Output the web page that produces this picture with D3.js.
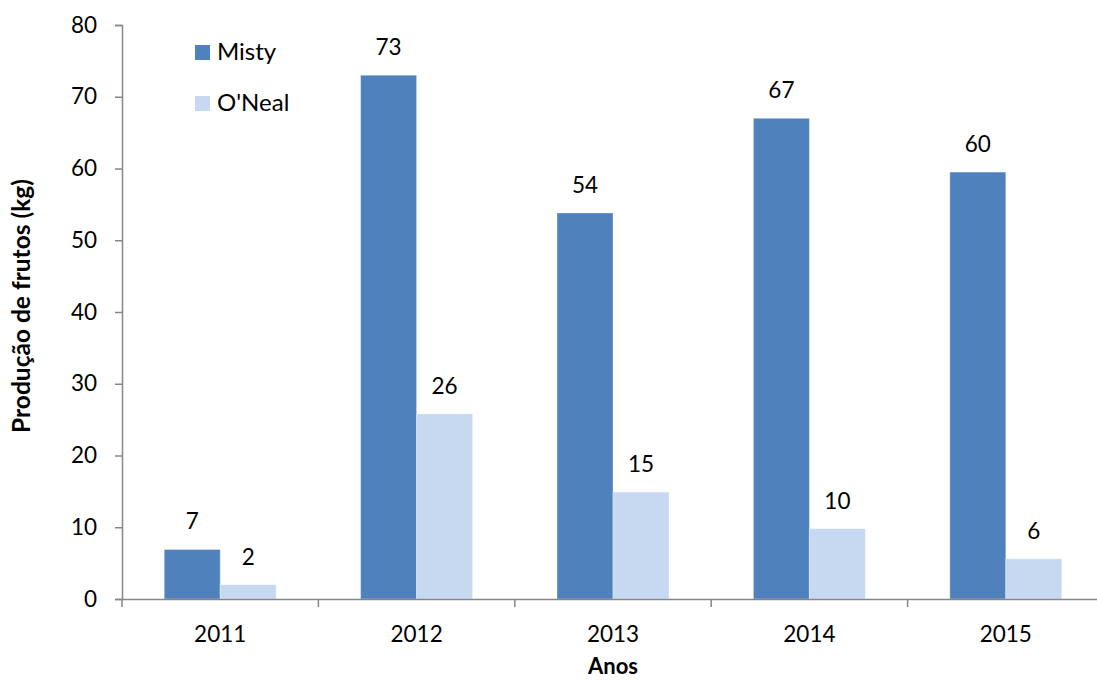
<!DOCTYPE html>
<html>
<head>
<meta charset="utf-8">
<script src="https://cdn.jsdelivr.net/npm/d3@7"></script>
<style>
  html, body { margin: 0; padding: 0; background: #fff; overflow: hidden; }
  svg { display: block; font-family: Lato, "Open Sans", "DejaVu Sans", sans-serif; }
</style>
</head>
<body>
<svg id="chart" width="1097" height="681"></svg>
<script>
// Fruit production per year for two blueberry cultivars (kg)
const years = ["2011", "2012", "2013", "2014", "2015"];
const seriesNames = ["Misty", "O'Neal"];
const misty = [6.9, 73.0, 53.8, 67.0, 59.5];
const oneal = [2.0, 25.8, 14.9, 9.8, 5.6];
const yTicks = [0, 10, 20, 30, 40, 50, 60, 70, 80];
const colors = ["#4f81bd", "#c6d9f1"];

const seriesValues = [misty, oneal];
const rows = years.map((yr, i) => ({
  year: yr,
  values: seriesNames.map((name, s) => ({ name, value: seriesValues[s][i], s }))
}));

const svg = d3.select("#chart");
const plotLeft = 122, plotBottom = 599, plotTop = 25;
const step = 196.4;
const numSize = 22.5;

const x0 = d3.scaleBand().domain(years).range([plotLeft, plotLeft + step * years.length]).padding(0);
const x1 = d3.scaleBand().domain(seriesNames).range([0, x0.bandwidth()]).paddingInner(0).paddingOuter(0.754);
const y = d3.scaleLinear().domain([0, 80]).range([plotBottom, plotTop]);
const color = d3.scaleOrdinal().domain(seriesNames).range(colors);
const fmt = d3.format(".0f");

// Bars
const groups = svg.append("g").selectAll("g").data(rows).join("g")
  .attr("transform", d => `translate(${x0(d.year)},0)`);

groups.selectAll("rect").data(d => d.values).join("rect")
  .attr("x", d => x1(d.name))
  .attr("y", d => y(d.value))
  .attr("width", x1.bandwidth())
  .attr("height", d => y(0) - y(d.value))
  .attr("fill", d => color(d.name))
  .attr("stroke", "#ffffff")
  .attr("stroke-opacity", 0.35)
  .attr("stroke-width", 1);

// Value labels
groups.selectAll("text").data(d => d.values).join("text")
  .attr("x", d => x1(d.name) + x1.bandwidth() / 2)
  .attr("y", d => y(d.value) - 20)
  .attr("text-anchor", "middle")
  .attr("font-size", numSize)
  .attr("fill", "#000")
  .text(d => fmt(d.value));

// Y axis
const yAxis = svg.append("g")
  .attr("transform", `translate(${plotLeft},0)`)
  .call(d3.axisLeft(y).tickValues(yTicks).tickSize(7).tickPadding(18).tickFormat(d3.format("d")));
yAxis.select(".domain").attr("stroke", "#868686").attr("stroke-width", 1.5);
yAxis.selectAll(".tick line").attr("stroke", "#868686").attr("stroke-width", 1.5);
yAxis.selectAll(".tick text").attr("font-size", numSize).attr("fill", "#000")
  .attr("font-family", "Lato, 'Open Sans', sans-serif");

// X axis
const xAxis = svg.append("g")
  .attr("transform", `translate(0,${plotBottom})`)
  .call(d3.axisBottom(x0).tickSize(0).tickPadding(27));
xAxis.select(".domain").attr("stroke", "#868686").attr("stroke-width", 1.5);
xAxis.selectAll(".tick text").attr("font-size", numSize).attr("fill", "#000")
  .attr("font-family", "Lato, 'Open Sans', sans-serif");

// Category separators below the x axis
const boundaries = years.map(yr => x0(yr)).concat([x0(years[years.length - 1]) + x0.bandwidth()]);
svg.append("g").selectAll("line").data(boundaries).join("line")
  .attr("x1", d => d).attr("x2", d => d)
  .attr("y1", plotBottom).attr("y2", plotBottom + 8)
  .attr("stroke", "#868686").attr("stroke-width", 1.5);

// Axis titles
svg.append("text")
  .attr("transform", "translate(30,306) rotate(-90)")
  .attr("text-anchor", "middle")
  .attr("font-size", 24.5)
  .attr("font-weight", "bold")
  .attr("fill", "#000")
  .text("Produção de frutos (kg)");

svg.append("text")
  .attr("x", x0("2013") + x0.bandwidth() / 2)
  .attr("y", 674)
  .attr("text-anchor", "middle")
  .attr("font-size", 22)
  .attr("font-weight", "bold")
  .attr("fill", "#000")
  .text("Anos");

// Legend
const legend = svg.append("g").selectAll("g").data(seriesNames).join("g")
  .attr("transform", (d, i) => `translate(195,${45 + i * 51})`);
legend.append("rect")
  .attr("width", 15).attr("height", 15)
  .attr("fill", d => color(d));
legend.append("text")
  .attr("x", 22).attr("y", 15)
  .attr("font-size", 24)
  .attr("fill", "#000")
  .text(d => d);
</script>
</body>
</html>
